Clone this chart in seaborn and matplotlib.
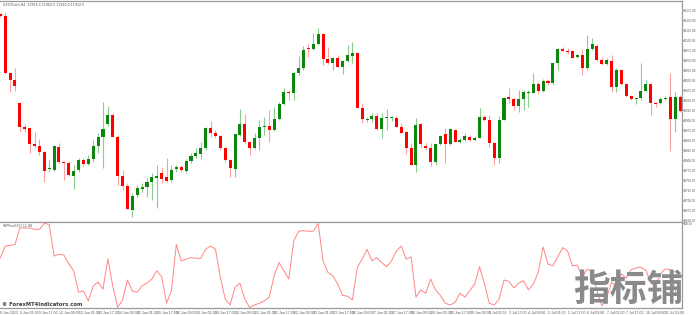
import numpy as np
import pandas as pd
import matplotlib
matplotlib.use("Agg")
import matplotlib.pyplot as plt
import seaborn as sns

# ---------------- data ----------------
opens = [12165, 12160, 12017.5, 12000, 11943.3, 11883.3, 11879.3, 11840, 11835.8, 11820.8,
         11776.8, 11775, 11833.3, 11795.8, 11793.3, 11760.8, 11775, 11799.3, 11789.3, 11802.5,
         11835, 11856.8, 11890, 11912.5, 11858.3, 11760, 11735.8, 11675, 11712.5, 11726.8,
         11731.8, 11744.3, 11754.3, 11768.3, 11756.8, 11750, 11776.8, 11781.8, 11773.3, 11797.5,
         11810.8, 11814.3, 11829.3, 11879.3, 11868.3, 11860, 11830.8, 11800, 11777.5, 11862.5,
         11890.8, 11845, 11830.8, 11855, 11882.5, 11885.8, 11875, 11903.3, 11940, 11970.8,
         11968.3, 12016.8, 12029.3, 12080.8, 12076.8, 12090, 12114.3, 12051.8, 12041.8, 12055.8,
         12033.3, 12048.3, 12060.8, 12067.5, 11930.8, 11899.3, 11901.8, 11910.8, 11877.5, 11903.8,
         11904.3, 11905.8, 11883.3, 11869.3, 11830.8, 11787.5, 11889.3, 11835, 11830.8, 11795.8,
         11839.3, 11865, 11840, 11875, 11845.8, 11850, 11858.3, 11850, 11854.3, 11908.3,
         11900, 11843.3, 11805.8, 11900, 11956.8, 11951.8, 11935, 11951.8, 11966.8, 11968.3,
         11989.3, 11973.3, 11998.3, 11991.8, 12041.8, 12077.5, 12073.3, 12072.5, 12056.8, 12061.8,
         12029.3, 12077.5, 12085.8, 12050, 12039.3, 12048.3, 11981.8, 12025, 11990, 11960.8,
         11951.8, 11954.3, 11973.3, 11990, 11941.8, 11943.3, 11953.3, 11958.3, 11901.8, 11958.3]
highs = [12167.5, 12170, 12020, 12030, 11945, 11889.3, 11880, 11870.8, 11852.5, 11822.5,
         11800, 11837.5, 11841.8, 11797.5, 11797.5, 11787.5, 11805, 11805, 11812.5, 11850,
         11866.8, 11945.8, 11935.8, 11916.8, 11862.5, 11775, 11742.5, 11716.8, 11737.5, 11741.8,
         11754.3, 11766.8, 11787.5, 11783.3, 11804.3, 11787.5, 11787.5, 11787.5, 11801.8, 11816.8,
         11829.3, 11845.8, 11883.3, 11898.3, 11875, 11862.5, 11832.5, 11802.5, 11865, 11926.8,
         11915, 11847.5, 11866.8, 11900, 11908.3, 11925, 11933.3, 11945.8, 11979.3, 11975,
         12020.8, 12060, 12085, 12090, 12116.8, 12129.3, 12117.5, 12083.3, 12057.5, 12062.5,
         12050, 12087.5, 12095, 12070, 11941.8, 11907.5, 11916.8, 11917.5, 11916.8, 11926.8,
         11910, 11910, 11892.5, 11872.5, 11841.8, 11904.3, 11892.5, 11842.5, 11841.8, 11840,
         11862.5, 11879.3, 11880, 11877.5, 11855, 11867.5, 11862.5, 11860, 11929.3, 11912.5,
         11912.5, 11845, 11910, 11958.3, 11979.3, 11955, 11975, 11975, 11975, 12018.3,
         11995.8, 12002.5, 12002.5, 12045, 12079.3, 12081.8, 12079.3, 12075, 12065, 12077.5,
         12112.5, 12105.8, 12090, 12057.5, 12055, 12062.5, 12030, 12027.5, 11992.5, 11962.5,
         11957.5, 12041.8, 12000, 11992.5, 11945, 11957.5, 11960, 12016.8, 11970.8, 11962.5]
lows = [12157.5, 12015, 11970, 11972.5, 11870.8, 11870.8, 11816.8, 11829.3, 11812.5, 11745.8,
        11770.8, 11772.5, 11791.8, 11750, 11760, 11726.8, 11770.8, 11785, 11787.5, 11795.8,
        11816.8, 11779.3, 11885, 11857.5, 11737.5, 11725, 11676.3, 11658.3, 11708.3, 11720.8,
        11708.3, 11700, 11679.3, 11741.8, 11745.8, 11745.8, 11770.8, 11770.8, 11766.8, 11791.8,
        11804.3, 11801.8, 11825, 11858.3, 11855, 11825, 11795, 11756.8, 11758.3, 11860,
        11842.5, 11812.5, 11827.5, 11825, 11862.5, 11845.8, 11872.5, 11900, 11937.5, 11950,
        11950, 12012.5, 12025, 12056.8, 12075, 12087.5, 12037.5, 12040, 12025, 12032.5,
        12015, 12045, 12043.3, 11930, 11891.8, 11895, 11895.8, 11875, 11854.3, 11875,
        11897.5, 11882.5, 11867.5, 11814.3, 11786.3, 11770.8, 11829.3, 11825, 11785, 11787.5,
        11837.5, 11793.3, 11837.5, 11845, 11842.5, 11847.5, 11847.5, 11847.5, 11853.8, 11897.5,
        11833.3, 11787.5, 11793.3, 11898.8, 11941.8, 11925, 11920.8, 11925, 11931.8, 11967.5,
        11965, 11970, 11987.5, 11987.5, 12025, 12071.3, 12065, 12053.8, 12055, 12012.5,
        12025, 12075, 12047.5, 12037.5, 12037.5, 11970.8, 11970.8, 11987.5, 11956.8, 11950,
        11940, 11950, 11971.3, 11912.5, 11932.5, 11940, 11950, 11823.3, 11870.8, 11920]
closes = [12160, 12017.5, 12000, 11985, 11883.3, 11877.5, 11840, 11835.8, 11820.8, 11773.3,
          11779.3, 11835, 11794.3, 11791.8, 11761.8, 11773.3, 11799.3, 11789.3, 11802.5, 11835.8,
          11857.5, 11877.5, 11912.5, 11858.3, 11760, 11735.8, 11677.5, 11710.8, 11729.3, 11733.3,
          11745.8, 11756.8, 11760, 11751.8, 11748.3, 11775, 11783.3, 11775, 11798.3, 11810.8,
          11816.8, 11829.3, 11879.3, 11866.8, 11860, 11829.3, 11800, 11779.3, 11864.3, 11890.8,
          11844.3, 11830.8, 11855, 11882.5, 11885.8, 11875, 11902.5, 11940, 11969.3, 11968.3,
          12016.8, 12029.3, 12075, 12076.8, 12090, 12114.3, 12051.8, 12041.8, 12055.8, 12033.3,
          12048.3, 12061.8, 12067.5, 11930.8, 11901.8, 11902.5, 11910.8, 11877.5, 11904.3, 11904.3,
          11904.5, 11883.3, 11868.3, 11830.8, 11787.5, 11887.5, 11840, 11829.3, 11795.8, 11839.3,
          11860, 11840, 11877.5, 11845.8, 11850, 11860, 11850, 11854.3, 11908.3, 11900,
          11843.3, 11805.8, 11900, 11954.3, 11951.8, 11935, 11951.8, 11969.3, 11969.3, 11989.3,
          11973.3, 11997.5, 11991.8, 12041.8, 12077.5, 12073.3, 12073, 12055.8, 12061.8, 12029.3,
          12077.5, 12090, 12050, 12039.3, 12050, 11981.8, 12025, 11990, 11960, 11951.8,
          11955.8, 11973.3, 11990, 11941.8, 11938.8, 11952.5, 11955.8, 11901.8, 11958.3, 11922.5]
osc = [59, 73, 74, 75, 94.7, 94.7, 94.7, 93, 93, 100,
       99, 61.3, 63.3, 62.5, 52, 43.7, 18.4, 19.6, 8, 25.6,
       30.4, 21.8, 57.9, 25.6, 0.2, 9, 32.7, 19.4, 18.2, 26,
       29, 33.9, 43.7, 36.6, 5, 20.2, 75, 55.5, 57.5, 59.4,
       58.6, 58.6, 69.3, 73.2, 69.3, 35.9, 10, 3, 24.1, 28.8,
       10, 0, 3, 5, 8, 12.4, 37.8, 53.5, 43.7, 33.9,
       78.9, 90.7, 91.5, 90.7, 90.7, 100, 55.5, 41.7, 37.8, 28,
       14.3, 13.5, 9, 47.6, 57.5, 69.3, 55.5, 59.4, 53.5, 48.4,
       55.5, 67.3, 73.2, 57.5, 60.3, 12.4, 21, 17, 33.9, 21,
       14.3, 5, 3, 6, 16.9, 12.4, 20, 28, 48.4, 28,
       5, 3, 10, 32.7, 31.1, 23.3, 28.8, 31.9, 21, 28,
       41.7, 72, 51.5, 49.6, 60.2, 71.2, 67.3, 49.6, 50.4, 35.9,
       45.6, 43.7, 20, 2, 12, 30, 25, 40, 35, 45,
       47, 48, 44, 30, 25, 40, 46, 45, 20, 12]
price_ticks = [11650, 11675, 11700, 11725, 11750, 11775, 11800, 11825, 11850, 11875, 11900,
               11925, 11950, 11975, 12000, 12025, 12050, 12075, 12100, 12125, 12150, 12175]
time_labels = ["8 Jun 2023", "9 Jun 01:00", "9 Jun 17:00", "12 Jun 09:00", "13 Jun 01:00",
               "13 Jun 17:00", "14 Jun 09:00", "15 Jun 01:00", "15 Jun 17:00", "16 Jun 09:00",
               "19 Jun 01:00", "19 Jun 17:00", "20 Jun 09:00", "21 Jun 01:00", "21 Jun 17:00",
               "22 Jun 09:00", "23 Jun 01:00", "23 Jun 17:00", "26 Jun 09:00", "27 Jun 01:00",
               "27 Jun 17:00", "28 Jun 09:00", "29 Jun 01:00", "29 Jun 17:00", "30 Jun 09:00",
               "3 Jul 01:00", "3 Jul 17:00", "4 Jul 09:00", "5 Jul 01:00", "5 Jul 17:00",
               "6 Jul 09:00", "7 Jul 01:00", "7 Jul 17:00", "10 Jul 09:00", "11 Jul 01:00"]
title_text = "US30Cash,H4  11958.3 11962.5 11920.0 11922.5"
ind_label = "WPRvol(20) 11.98"

# ---------------- figure ----------------
sns.set_style("white")
plt.rcParams['font.family'] = ['DejaVu Sans']
NARROW = ["Liberation Sans Narrow", "Liberation Sans", "DejaVu Sans"]

W, H = 696, 315
fig = plt.figure(figsize=(W / 100, H / 100), dpi=100)
ax = fig.add_axes([0, (H - 221.7) / H, 682 / W, 220.7 / H])
ax2 = fig.add_axes([0, (H - 308) / H, 682 / W, (308 - 222.3) / H])

n = len(opens)
df = pd.DataFrame({"i": np.arange(n), "open": opens, "high": highs,
                   "low": lows, "close": closes, "osc": osc})
up = df["close"] >= df["open"]
dn = ~up

green, red = "#0b870b", "#ff0000"
ax.vlines(df["i"][up], df["low"][up], df["high"][up], color="#8ccc8c", lw=0.8, zorder=1)
ax.vlines(df["i"][dn], df["low"][dn], df["high"][dn], color="#ffa0a0", lw=0.8, zorder=1)
body = (df["close"] - df["open"])
body_h = np.where(body.abs() < 2.5, np.where(body >= 0, 2.5, -2.5), body)
ax.bar(df["i"][up], body_h[up.values], bottom=df["open"][up], width=0.62,
       color=green, linewidth=0, zorder=2)
ax.bar(df["i"][dn], body_h[dn.values], bottom=df["open"][dn], width=0.62,
       color=red, linewidth=0, zorder=2)

FS = 2.2
ax.set_xlim(-0.06, 139.4)
ax.set_ylim(11645.75, 12197.5)
ax.yaxis.tick_right()
ax.set_yticks(price_ticks)
ax.set_yticklabels([f"{p:.2f}" for p in price_ticks], family=NARROW)
ax.tick_params(axis="y", length=1.2, width=0.5, colors="#888888", labelsize=FS,
               labelcolor="#555555", pad=0.4)
ax.set_xticks([])
ax.text(0.004, 0.99, title_text, transform=ax.transAxes, fontsize=2.3,
        color="#555555", va="top", ha="left")

sns.lineplot(data=df, x="i", y="osc", ax=ax2, color="#ff8c8c", lw=0.75)
ax2.set_xlim(-0.06, 139.4)
ax2.set_ylim(-0.6, 101.4)
ax2.yaxis.tick_right()
ax2.set_yticks([100])
ax2.set_yticklabels(["100.00"], family=NARROW)
ax2.tick_params(axis="y", length=1.2, width=0.5, colors="#888888", labelsize=FS,
                labelcolor="#555555", pad=0.4)
xt = np.arange(0, n, 4)
ax2.set_xticks(xt)
ax2.set_xticklabels(time_labels[:len(xt)], ha="left", family=NARROW)
ax2.tick_params(axis="x", length=1.5, width=0.5, colors="#888888", labelsize=2.5,
                labelcolor="#555555", pad=0.5)
ax2.set_xlabel("")
ax2.set_ylabel("")
ax2.text(0.004, 0.985, ind_label, transform=ax2.transAxes, fontsize=2.3,
         color="#555555", va="top", ha="left")

for a in (ax, ax2):
    a.set_facecolor("white")
    a.spines["left"].set_visible(False)
    for s in ("top", "right", "bottom"):
        a.spines[s].set_color("#9a9a9a")
        a.spines[s].set_linewidth(0.9)

# watermarks
fig.text(1.5 / W, 1 - 304.5 / H, "\u00a9 ForexMT4Indicators.com", fontsize=3.8,
         fontweight="bold", color="#3a3a3a", va="center", ha="left", zorder=10)
fig.text(573 / W, 1 - 290.5 / H, "指标铺", fontsize=26.5, fontweight="heavy",
         family=["Noto Sans CJK SC", "DejaVu Sans"], color="#8a8a8a",
         va="center", ha="left", zorder=10)

fig.savefig("out.png", dpi=100, facecolor="white")
